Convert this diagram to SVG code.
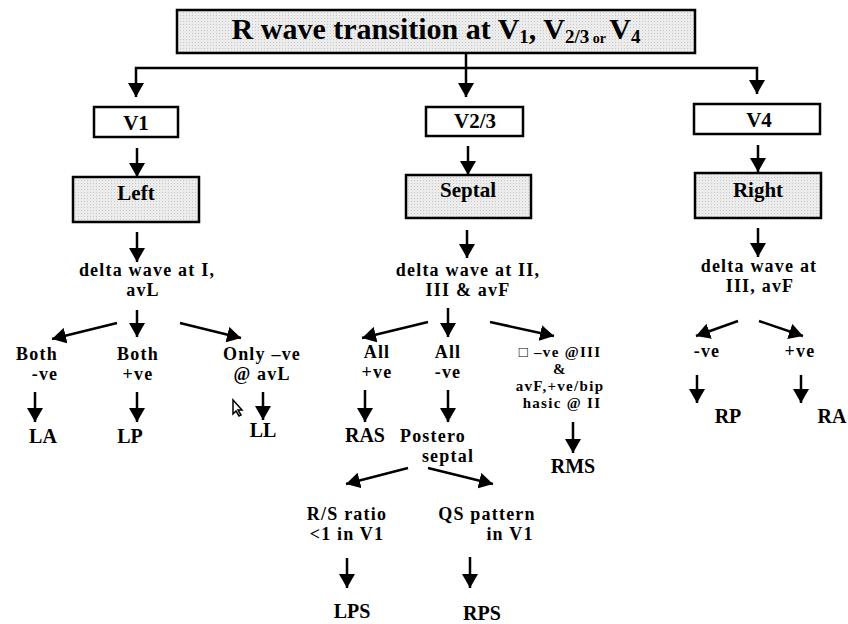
<svg xmlns="http://www.w3.org/2000/svg" width="848" height="624" viewBox="0 0 848 624">
<defs>
<marker id="ah" viewBox="0 0 14 16" refX="14" refY="8" markerWidth="14" markerHeight="16" markerUnits="userSpaceOnUse" orient="auto">
<path d="M0,0 L14,8 L0,16 z" fill="#000"/>
</marker>
<pattern id="dots" width="3" height="3" patternUnits="userSpaceOnUse">
<rect width="3" height="3" fill="#ececec"/>
<rect width="1" height="1" fill="#c8c8c8"/>
</pattern>
</defs>
<style>
text{font-family:"Liberation Serif","Times New Roman",serif;font-weight:bold;fill:#000;text-anchor:middle;font-size:20px}
.box{fill:#fff;stroke:#000;stroke-width:2.5}
.gbox{fill:url(#dots);stroke:#000;stroke-width:2.5}
.c{fill:none;stroke:#000;stroke-width:2.5;marker-end:url(#ah)}
.bl{font-size:21px}
.ml{font-size:18px;letter-spacing:1.2px}
.sm{font-size:15px;letter-spacing:1.3px}
</style>
<rect width="848" height="624" fill="#fff"/>

<g id="header">
<rect class="gbox" x="177" y="10" width="518" height="43"/>
<text x="436" y="39" style="font-size:30px">R wave transition at V<tspan style="font-size:19px" dy="4">1</tspan><tspan dy="-4">, V</tspan><tspan style="font-size:19px" dy="4">2/3</tspan><tspan style="font-size:14px"> or </tspan><tspan dy="-4">V</tspan><tspan style="font-size:19px" dy="4">4</tspan></text>
</g>

<g id="connectors">
<path class="c" d="M466,53 L466,97"/>
<path class="c" d="M466,68 L136,68 L136,97"/>
<path class="c" d="M466,68 L757,68 L757,94"/>
<path class="c" d="M137,148 L137,177"/>
<path class="c" d="M137,232 L137,262"/>
<path class="c" d="M468,146 L468,175"/>
<path class="c" d="M467,230 L467,258"/>
<path class="c" d="M758,145 L758,172"/>
<path class="c" d="M758,228 L758,257"/>
<path class="c" d="M117,323 L52,339"/>
<path class="c" d="M137,310 L137,337"/>
<path class="c" d="M180,323 L241,338"/>
<path class="c" d="M35,392 L35,422"/>
<path class="c" d="M137,392 L137,422"/>
<path class="c" d="M263,392 L263,420"/>
<path class="c" d="M428,322 L362,338"/>
<path class="c" d="M448,308 L448,337"/>
<path class="c" d="M490,322 L554,336"/>
<path class="c" d="M365,390 L365,422"/>
<path class="c" d="M448,390 L448,422"/>
<path class="c" d="M573,422 L573,453"/>
<path class="c" d="M408,468 L346,484"/>
<path class="c" d="M428,468 L493,484"/>
<path class="c" d="M347,558 L347,588"/>
<path class="c" d="M470,557 L470,588"/>
<path class="c" d="M738,321 L696,336"/>
<path class="c" d="M759,321 L803,336"/>
<path class="c" d="M697,375 L697,403"/>
<path class="c" d="M801,375 L801,403"/>
</g>

<g id="v1"><rect class="box" x="94" y="107" width="84" height="30"/><text class="bl" x="136" y="130">V1</text></g>
<g id="left"><rect class="gbox" x="73" y="177" width="126" height="45"/><text class="bl" x="136" y="200">Left</text></g>
<g id="v23"><rect class="box" x="426" y="107" width="97" height="29"/><text class="bl" x="475" y="128">V2/3</text></g>
<g id="septal"><rect class="gbox" x="406" y="175" width="125" height="43"/><text class="bl" x="468" y="197">Septal</text></g>
<g id="v4"><rect class="box" x="694" y="104" width="126" height="30"/><text class="bl" x="759" y="127">V4</text></g>
<g id="right"><rect class="gbox" x="695" y="173" width="126" height="45"/><text class="bl" x="758" y="197">Right</text></g>

<g id="delta-left"><text class="ml" x="147" y="276">delta wave at I,<tspan x="143" dy="20">avL</tspan></text></g>
<g id="delta-septal"><text class="ml" x="468" y="276">delta wave at II,<tspan x="468" dy="20">III &amp; avF</tspan></text></g>
<g id="delta-right"><text class="ml" x="759" y="272">delta wave at<tspan x="760" dy="20">III, avF</tspan></text></g>

<g id="both-neg"><text class="ml" x="37" y="360">Both<tspan x="45" dy="20">-ve</tspan></text></g>
<g id="both-pos"><text class="ml" x="138" y="360">Both<tspan x="138" dy="20">+ve</tspan></text></g>
<g id="only-neg"><text class="ml" x="262" y="360">Only –ve<tspan x="262" dy="20">@ avL</tspan></text></g>
<g id="la"><text x="43" y="443">LA</text></g>
<g id="lp"><text x="130" y="443">LP</text></g>
<g id="ll"><text x="263" y="437">LL</text></g>
<path d="M233,400 L233,414 L236,411 L239,416 L241,415 L238,410 L242,410 z" fill="#fff" stroke="#000" stroke-width="1.5"/>

<g id="all-pos"><text class="ml" x="377" y="358">All<tspan x="377" dy="20">+ve</tspan></text></g>
<g id="all-neg"><text class="ml" x="448" y="358">All<tspan x="448" dy="20">-ve</tspan></text></g>
<g id="rms-cond"><text class="sm" x="560" y="357">□ –ve @III<tspan x="560" dy="17">&amp;</tspan><tspan x="560" dy="17">avF,+ve/bip</tspan><tspan x="562" dy="17">hasic @ II</tspan></text></g>
<g id="ras"><text x="365" y="442">RAS</text></g>
<g id="postero"><text class="ml" x="433" y="442">Postero<tspan x="448" dy="20">septal</tspan></text></g>
<g id="rms"><text x="573" y="473">RMS</text></g>
<g id="rs"><text class="ml" x="347" y="520">R/S ratio<tspan x="347" dy="20">&lt;1 in V1</tspan></text></g>
<g id="qs"><text class="ml" x="487" y="520">QS pattern<tspan x="510" dy="20">in V1</tspan></text></g>
<g id="lps"><text x="352" y="618">LPS</text></g>
<g id="rps"><text x="482" y="620">RPS</text></g>

<g id="neg-r"><text class="ml" x="707" y="357">-ve</text></g>
<g id="pos-r"><text class="ml" x="800" y="357">+ve</text></g>
<g id="rp"><text x="728" y="423">RP</text></g>
<g id="ra"><text x="832" y="423">RA</text></g>
</svg>
